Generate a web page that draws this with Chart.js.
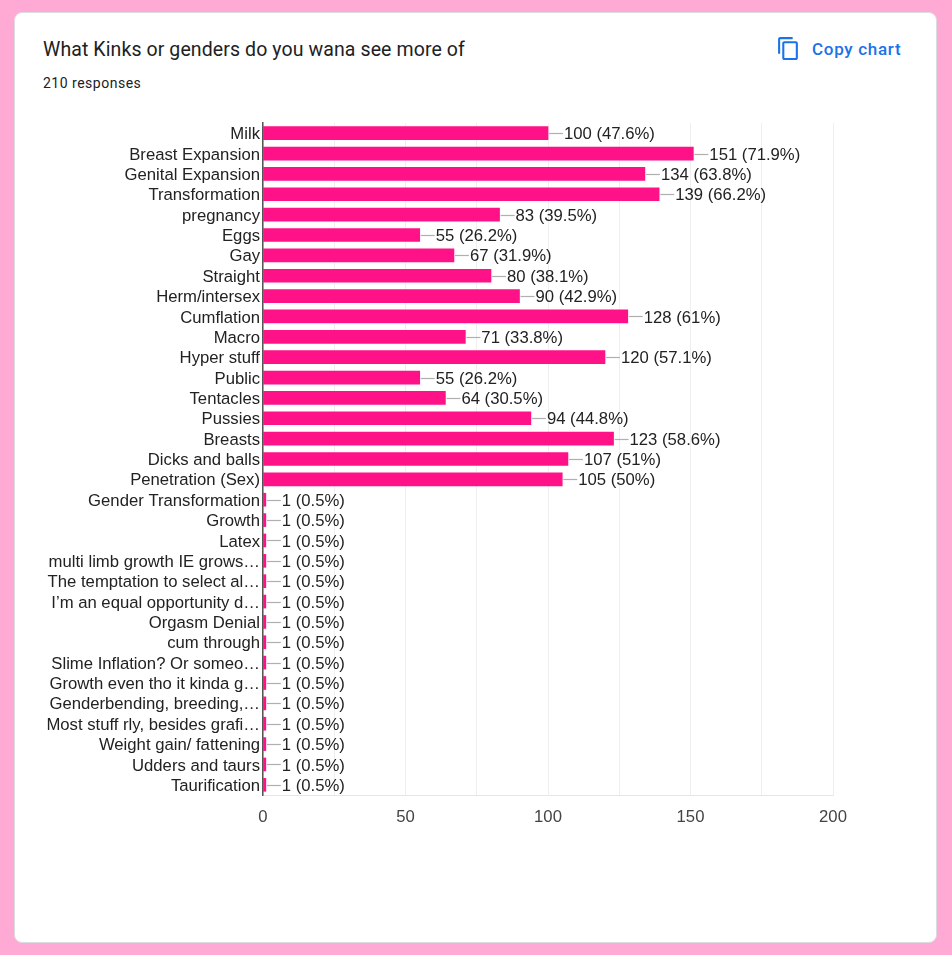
<!DOCTYPE html>
<html>
<head>
<meta charset="utf-8">
<script src="https://cdn.jsdelivr.net/npm/chart.js@4.4.1/dist/chart.umd.min.js"></script>
<style>
    html, body { margin: 0; padding: 0; }
    body { width: 952px; height: 955px; background: #ffaad5; position: relative; overflow: hidden; }
    .card {
        position: absolute; left: 14px; top: 12px; width: 921px; height: 929px;
        background: #fff; border: 1px solid #dadce0; border-radius: 8px;
    }
    .title {
        position: absolute; left: 43px; top: 38px; font: 19.5px Roboto, Arial, sans-serif;
        color: #202124; letter-spacing: 0.1px;
    }
    .sub {
        position: absolute; left: 43px; top: 75px; font: 14px Roboto, Arial, sans-serif;
        color: #202124; letter-spacing: 0.5px;
    }
    .copy {
        position: absolute; left: 776px; top: 36px; display: flex; align-items: center;
        color: #1a73e8; font: 500 17px Roboto, Arial, sans-serif; letter-spacing: 0.7px;
    }
    .copy svg { width: 25px; height: 25px; margin-right: 11px; fill: #1a73e8; }
    #chart { position: absolute; left: 0; top: 0; }
</style>
</head>
<body>
<div class="card"></div>
<div class="title">What Kinks or genders do you wana see more of</div>
<div class="sub">210 responses</div>
<div class="copy">
    <svg viewBox="0 0 24 24"><path d="M16 1H4c-1.1 0-2 .9-2 2v14h2V3h12V1zm3 4H8c-1.1 0-2 .9-2 2v14c0 1.1.9 2 2 2h11c1.1 0 2-.9 2-2V7c0-1.1-.9-2-2-2zm0 16H8V7h11v14z"/></svg>
    Copy chart
</div>
<canvas id="chart" width="952" height="955"></canvas>
<script>
const totalResponses = 210;

const categories = [
    "Milk", "Breast Expansion", "Genital Expansion", "Transformation", "pregnancy",
    "Eggs", "Gay", "Straight", "Herm/intersex", "Cumflation", "Macro", "Hyper stuff",
    "Public", "Tentacles", "Pussies", "Breasts", "Dicks and balls", "Penetration (Sex)",
    "Gender Transformation", "Growth", "Latex", "multi limb growth IE grows\u2026",
    "The temptation to select al\u2026", "I\u2019m an equal opportunity d\u2026",
    "Orgasm Denial", "cum through", "Slime Inflation? Or someo\u2026",
    "Growth even tho it kinda g\u2026", "Genderbending, breeding,\u2026",
    "Most stuff rly, besides grafi\u2026", "Weight gain/ fattening",
    "Udders and taurs", "Taurification"
];

const counts = [
    100, 151, 134, 139, 83, 55, 67, 80, 90, 128, 71, 120, 55, 64, 94, 123, 107, 105,
    1, 1, 1, 1, 1, 1, 1, 1, 1, 1, 1, 1, 1, 1, 1
];

const percents = [
    "47.6", "71.9", "63.8", "66.2", "39.5", "26.2", "31.9", "38.1", "42.9", "61",
    "33.8", "57.1", "26.2", "30.5", "44.8", "58.6", "51", "50",
    "0.5", "0.5", "0.5", "0.5", "0.5", "0.5", "0.5", "0.5", "0.5", "0.5", "0.5",
    "0.5", "0.5", "0.5", "0.5"
];

const xTicks = [0, 50, 100, 150, 200];

const FONT = "'Liberation Sans', Arial, sans-serif";

// gray connector + "n (p%)" text at the end of each bar
const valueLabels = {
    id: "valueLabels",
    afterDatasetsDraw(chart) {
        const ctx = chart.ctx;
        const meta = chart.getDatasetMeta(0);
        ctx.save();
        ctx.font = `16.7px ${FONT}`;
        ctx.textAlign = "left";
        ctx.textBaseline = "middle";
        meta.data.forEach((bar, i) => {
            const x0 = bar.x + 1;
            ctx.strokeStyle = "#b0b0b0";
            ctx.lineWidth = 1.2;
            ctx.beginPath();
            ctx.moveTo(x0, Math.round(bar.y) + 0.5);
            ctx.lineTo(x0 + 14, Math.round(bar.y) + 0.5);
            ctx.stroke();
            ctx.fillStyle = "#222222";
            ctx.fillText(`${counts[i]} (${percents[i]}%)`, x0 + 15, bar.y + 1.5);
        });
        ctx.restore();
    }
};

const ctx = document.getElementById("chart").getContext("2d");
new Chart(ctx, {
    type: "bar",
    data: {
        labels: categories,
        datasets: [{
            data: counts,
            backgroundColor: "#ff1188",
            borderWidth: 0,
            barThickness: 13
        }]
    },
    plugins: [valueLabels],
    options: {
        indexAxis: "y",
        responsive: false,
        animation: false,
        events: [],
        layout: { padding: { top: 123, right: 119, bottom: 120, left: 0 } },
        plugins: { legend: { display: false }, tooltip: { enabled: false } },
        scales: {
            x: {
                min: 0,
                max: 200,
                afterBuildTicks: axis => {
                    const t = [];
                    for (let v = xTicks[0]; v <= xTicks[xTicks.length - 1]; v += 25) t.push({ value: v });
                    axis.ticks = t;
                },
                afterFit: axis => { axis.height = 40; },
                ticks: {
                    autoSkip: false,
                    maxRotation: 0,
                    padding: 12,
                    color: "#444444",
                    font: { family: FONT, size: 16.7 },
                    callback: v => xTicks.includes(v) ? String(v) : ""
                },
                grid: { color: "#efefef", drawTicks: false },
                border: { display: true, color: "#e6e6e6" }
            },
            y: {
                afterFit: axis => { axis.width = 263; },
                ticks: {
                    autoSkip: false,
                    padding: 3,
                    labelOffset: 1.5,
                    color: "#222222",
                    font: { family: FONT, size: 16.7 }
                },
                grid: { display: false, drawTicks: false },
                border: { display: true, color: "#555555", width: 1.5 }
            }
        }
    }
});
</script>
</body>
</html>
